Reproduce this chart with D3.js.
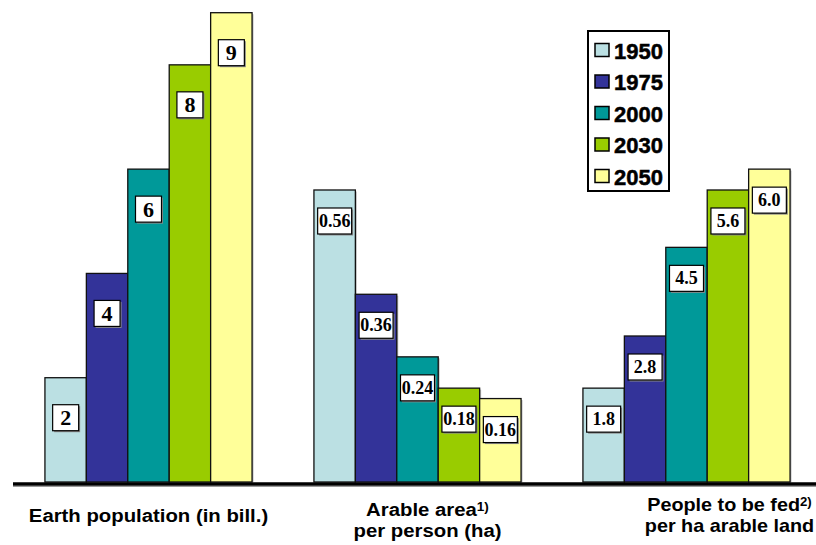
<!DOCTYPE html>
<html>
<head>
<meta charset="utf-8">
<script src="https://cdn.jsdelivr.net/npm/d3@7"></script>
<style>
  html, body { margin: 0; padding: 0; background: #ffffff; }
  svg { display: block; }
</style>
</head>
<body>
<svg id="chart" width="816" height="545"></svg>
<script>
// ---- data ----
const years = ["1950", "1975", "2000", "2030", "2050"];
const groups = ["population", "arable", "fed"];
const population = [2, 4, 6, 8, 9];              // billions
const arableArea = [0.56, 0.36, 0.24, 0.18, 0.16]; // ha per person
const peopleFed = [1.8, 2.8, 4.5, 5.6, 6.0];       // people per ha arable land
const groupValues = [population, arableArea, peopleFed];
const groupFormats = ["d", ".2f", ".1f"];
// arable area is drawn at tenfold scale so it shares the common axis
const heightFactor = [1, 10, 1];
const categoryLines = [
  [{ text: "Earth population (in bill.)" }],
  [{ text: "Arable area", sup: "1)" }, { text: "per person (ha)" }],
  [{ text: "People to be fed", sup: "2)" }, { text: "per ha arable land" }]
];

// ---- styling ----
const colors = ["#BBE0E3", "#333399", "#009999", "#99CC00", "#FFFF99"];
const groupStyle = [
  { boxW: 26, font: 22, drop: 27, textDx: 0, textY: [522], stretch: 1.13 },
  { boxW: 34, font: 18, drop: 18, textDx: 10, textY: [516, 537], stretch: 1.13 },
  { boxW: 34, font: 18, drop: 18, textDx: 43, textY: [511, 532], stretch: 1.1 }
];

const svg = d3.select("#chart");
const baseY = 482;

const x0 = d3.scaleBand()
  .domain(groups)
  .range([14, 821])
  .paddingInner(0.23)
  .paddingOuter(0.115);

const x1 = d3.scaleBand()
  .domain(years)
  .range([0, x0.bandwidth()]);

const y = d3.scaleLinear()
  .domain([0, 9])
  .range([baseY, 12.7]);

const color = d3.scaleOrdinal().domain(years).range(colors);

// bars
const g = svg.selectAll("g.group")
  .data(groups.map((key, gi) => ({ key, gi })))
  .join("g")
  .attr("class", "group")
  .attr("transform", d => `translate(${x0(d.key)},0)`);

const bars = g.selectAll("g.bar")
  .data(d => years.map((yr, i) => ({
    year: yr,
    value: groupValues[d.gi][i],
    gi: d.gi
  })))
  .join("g")
  .attr("class", "bar");

// soft shadow on the right edge
bars.append("rect")
  .attr("x", d => x1(d.year) + 1.5)
  .attr("y", d => y(d.value * heightFactor[d.gi]) + 1.5)
  .attr("width", x1.bandwidth())
  .attr("height", d => baseY - y(d.value * heightFactor[d.gi]) - 1.5)
  .attr("fill", "#9a9a9a")
  .attr("opacity", 0.6);

bars.append("rect")
  .attr("x", d => x1(d.year))
  .attr("y", d => y(d.value * heightFactor[d.gi]))
  .attr("width", x1.bandwidth())
  .attr("height", d => baseY - y(d.value * heightFactor[d.gi]))
  .attr("fill", d => color(d.year))
  .attr("stroke", "#111")
  .attr("stroke-width", 1.3);

// value boxes
bars.each(function (d) {
  const st = groupStyle[d.gi];
  const top = y(d.value * heightFactor[d.gi]) + st.drop;
  const cx = x1(d.year) + x1.bandwidth() / 2;
  const sel = d3.select(this);
  sel.append("rect")
    .attr("x", cx - st.boxW / 2 + 1.5)
    .attr("y", top + 1.5)
    .attr("width", st.boxW)
    .attr("height", 26)
    .attr("fill", "#8a8a8a");
  sel.append("rect")
    .attr("x", cx - st.boxW / 2)
    .attr("y", top)
    .attr("width", st.boxW)
    .attr("height", 26)
    .attr("fill", "#ffffff")
    .attr("stroke", "#000")
    .attr("stroke-width", 1.2);
  sel.append("text")
    .attr("x", cx)
    .attr("y", top + 13 + st.font * 0.34)
    .attr("text-anchor", "middle")
    .attr("font-family", "'Liberation Serif', 'Times New Roman', serif")
    .attr("font-weight", "bold")
    .attr("font-size", st.font)
    .attr("fill", "#000")
    .text(d3.format(groupFormats[d.gi])(d.value));
});

// baseline
svg.append("line")
  .attr("x1", 13).attr("x2", 816)
  .attr("y1", baseY + 4.5).attr("y2", baseY + 4.5)
  .attr("stroke", "#999").attr("stroke-width", 1.2);
svg.append("line")
  .attr("x1", 13).attr("x2", 816)
  .attr("y1", baseY + 2).attr("y2", baseY + 2)
  .attr("stroke", "#000").attr("stroke-width", 3.4);

// category labels
groups.forEach((key, gi) => {
  const st = groupStyle[gi];
  const cx = x0(key) + x0.bandwidth() / 2 + st.textDx;
  categoryLines[gi].forEach((line, li) => {
    const t = svg.append("text")
      .attr("transform", `translate(${cx},${st.textY[li]}) scale(${st.stretch},1)`)
      .attr("text-anchor", "middle")
      .attr("font-family", "'Liberation Sans', Arial, sans-serif")
      .attr("font-weight", "bold")
      .attr("font-size", 18)
      .attr("fill", "#000");
    t.append("tspan").text(line.text);
    if (line.sup) {
      t.append("tspan")
        .attr("font-size", 12)
        .attr("dy", -5)
        .text(line.sup);
    }
  });
});

// legend
const legend = svg.append("g").attr("transform", "translate(588,31)");
legend.append("rect")
  .attr("width", 81).attr("height", 160)
  .attr("fill", "#fff")
  .attr("stroke", "#000").attr("stroke-width", 2);
const items = legend.selectAll("g.item")
  .data(years)
  .join("g")
  .attr("class", "item")
  .attr("transform", (d, i) => `translate(0,${19.5 + i * 31.5})`);
items.append("rect")
  .attr("x", 7).attr("y", -7)
  .attr("width", 14).attr("height", 13)
  .attr("fill", d => color(d))
  .attr("stroke", "#000").attr("stroke-width", 1.5);
items.append("text")
  .attr("x", 26).attr("y", 8)
  .attr("font-family", "'Liberation Sans', Arial, sans-serif")
  .attr("font-weight", "bold")
  .attr("font-size", 22)
  .attr("stroke", "#000")
  .attr("stroke-width", 0.5)
  .attr("fill", "#000")
  .text(d => d);
</script>
</body>
</html>
